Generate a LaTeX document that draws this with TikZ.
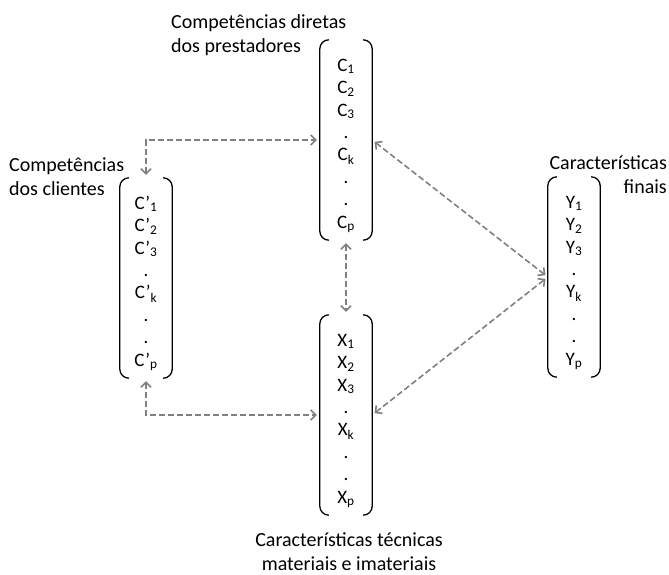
\documentclass[tikz,border=0pt]{standalone}
\usepackage{fontspec}
\setmainfont{Carlito}
\usepackage{tikz}
\usetikzlibrary{arrows.meta, positioning, calc}

\newcommand{\itens}[1]{\rule{0pt}{24pt}#1\textsubscript{1}\\#1\textsubscript{2}\\#1\textsubscript{3}\\.\\#1\textsubscript{k}\\.\\.\\#1\textsubscript{p}}

\begin{document}
\begin{tikzpicture}[x=1pt, y=-1pt,
			vetor/.style={rectangle, minimum width=52pt, minimum height=200pt,
				align=center, inner sep=0pt,
				font=\fontsize{19}{22.4}\selectfont},
			rotulo/.style={inner sep=0pt, font=\fontsize{20}{24}\selectfont},
			colchete/.style={line width=1.3pt, rounded corners=9pt},
			seta/.style={{Straight Barb[length=5pt,width=10pt]}-{Straight Barb[length=5pt,width=10pt]},
				draw=gray, dash pattern=on 6pt off 3pt, line width=1.6pt,
				shorten <=3pt, shorten >=3pt}
			]
			\useasboundingbox (0,0) rectangle (669,575);

			\node[vetor] (C)  at (346,140) {\itens{C}};
			\node[vetor] (Cl) at (146,278) {\itens{C’}};
			\node[vetor] (X)  at (346,415) {\itens{X}};
			\node[vetor] (Y)  at (574,277) {\itens{Y}};

			\node[rotulo, anchor=base west, align=left]  (labC)  at (171,53)  {Competências diretas\\dos prestadores};
			\node[rotulo, anchor=base west, align=left]  (labCl) at (9,195)   {Competências\\dos clientes};
			\node[rotulo, anchor=base east, align=right] (labY)  at (667,193) {Características\\finais};
			\node[rotulo, anchor=base, align=center]     (labX)  at (349,570) {Características técnicas\\materiais e imateriais};

			% parenteses
			\foreach \v in {C, Cl, X, Y} {
				\draw[colchete] ([xshift=9pt]\v.north west) -- (\v.north west) -- (\v.south west) -- ([xshift=9pt]\v.south west);
				\draw[colchete] ([xshift=-9pt]\v.north east) -- (\v.north east) -- (\v.south east) -- ([xshift=-9pt]\v.south east);
			}

			\draw[seta] (Cl.north) |- (C.west);
			\draw[seta] (Cl.south) |- (X.west);
			\draw[seta] (C.south)  -- (X.north);
			\draw[seta] (C.east)   -- (Y.west);
			\draw[seta] (X.east)   -- (Y.west);
		\end{tikzpicture}
\end{document}
